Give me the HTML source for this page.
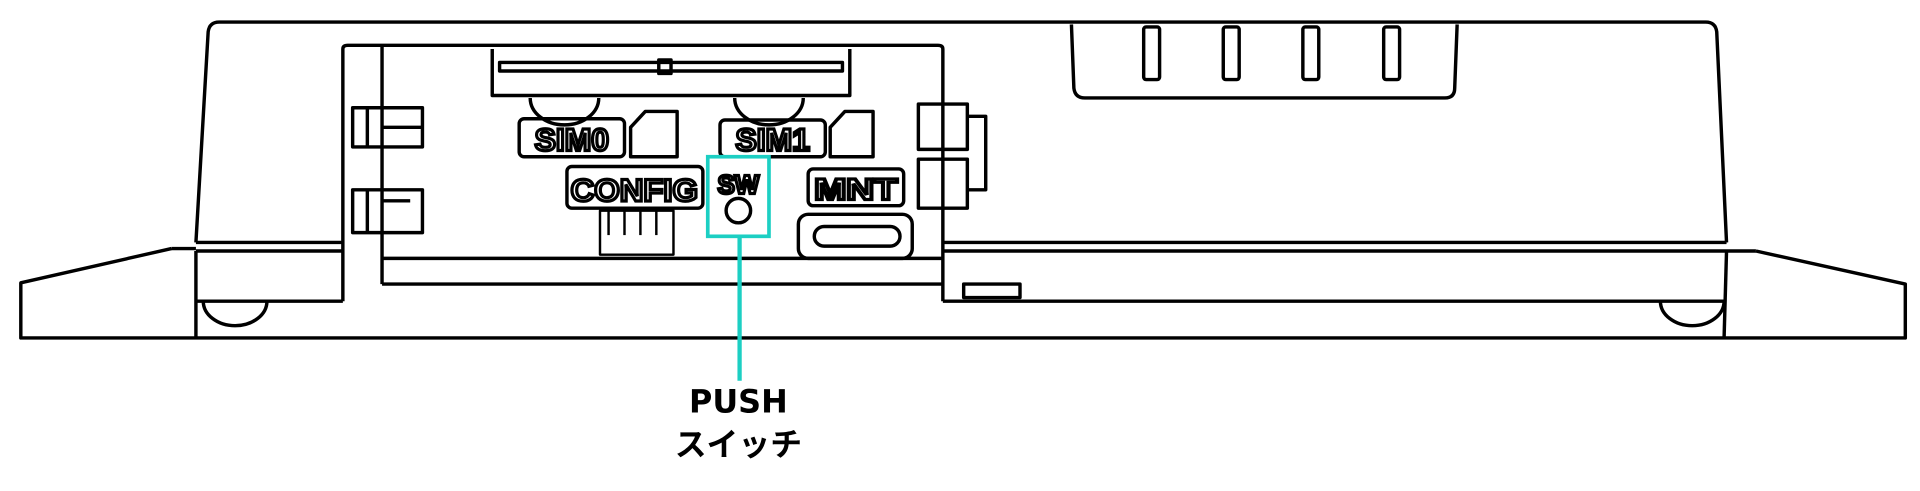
<!DOCTYPE html>
<html><head><meta charset="utf-8"><style>
html,body{margin:0;padding:0;background:#fff;width:1920px;height:491px;overflow:hidden}
svg{display:block}
</style></head><body>
<svg width="1920" height="491" viewBox="0 0 1568 401" preserveAspectRatio="none" xmlns="http://www.w3.org/2000/svg">
<g fill="none" stroke="#000" stroke-width="2.8" stroke-linejoin="round">
<path d="M160,198 L170,26 Q171,18 179,18 L1393,18 Q1401,18 1402,26 L1410,198"/>
<line x1="160" y1="198" x2="280" y2="198"/>
<line x1="770" y1="198" x2="1410" y2="198"/>
<line x1="160" y1="205" x2="280" y2="205"/>
<line x1="770" y1="205" x2="1434" y2="205"/>
<path d="M140,203 L17,231 L17,276 L1556,276 L1556,232 L1434,205"/>
<line x1="140" y1="203" x2="160" y2="203"/>
<line x1="160" y1="205" x2="160" y2="276"/>
<line x1="1410" y1="205" x2="1408" y2="276"/>
<line x1="770" y1="246" x2="1410" y2="246"/>
<line x1="160" y1="246" x2="280" y2="246"/>
<path d="M166,246 A26,20 0 0 0 218,246"/>
<path d="M1356,246 A26,20 0 0 0 1408,246"/>
<path d="M280,246 L280,40 Q280,37 284,37 L766,37 Q770,37 770,40 L770,246"/>
<line x1="312" y1="37" x2="312" y2="232"/>
<line x1="312" y1="211" x2="770" y2="211"/>
<line x1="312" y1="232" x2="770" y2="232"/>
<rect x="787" y="232" width="46" height="11"/>
<path d="M402,40 L402,78 L694,78 L694,40"/>
<rect x="408" y="51" width="280" height="7"/>
<rect x="538" y="49" width="10" height="11"/>
<path d="M433,80 A28,22 0 0 0 489,80"/>
<path d="M600,80 A28,22 0 0 0 656,80"/>
<rect x="424" y="97" width="86" height="31" rx="4"/>
<path d="M515,128 L515,104 L527,91 L553,91 L553,128 Z"/>
<rect x="588" y="98" width="86" height="30" rx="4"/>
<path d="M678,128 L678,104 L690,91 L713,91 L713,128 Z"/>
<rect x="463" y="136" width="111" height="34" rx="4"/>
<rect x="660" y="138" width="78" height="30" rx="4"/>
<rect x="652" y="175" width="93" height="36" rx="8"/>
<rect x="665" y="185" width="70" height="16" rx="8"/>
<g stroke-width="2">
<rect x="490" y="172" width="60" height="36"/>
<line x1="497" y1="172" x2="497" y2="192"/><line x1="510" y1="172" x2="510" y2="192"/>
<line x1="523" y1="172" x2="523" y2="192"/><line x1="536" y1="172" x2="536" y2="192"/>
</g>
<circle cx="603" cy="172" r="10"/>
<rect x="288" y="88" width="57" height="32"/><line x1="300" y1="88" x2="300" y2="120"/><line x1="312" y1="104" x2="345" y2="104"/>
<rect x="288" y="155" width="57" height="35"/><line x1="300" y1="155" x2="300" y2="190"/><line x1="312" y1="164" x2="335" y2="164"/>
<rect x="750" y="85" width="40" height="37"/>
<rect x="750" y="130" width="40" height="40"/>
<path d="M790,95 L805,95 L805,155 L790,155"/>
<path d="M875,20 L877,72 Q878,80 886,80 L1180,80 Q1188,80 1188,72 L1190,20"/>
<rect x="934" y="22" width="13" height="43" rx="2"/>
<rect x="999" y="22" width="13" height="43" rx="2"/>
<rect x="1064" y="22" width="13" height="43" rx="2"/>
<rect x="1130" y="22" width="13" height="43" rx="2"/>
</g>
<g font-family="Liberation Sans, sans-serif" font-weight="bold" fill="#fff" stroke="#000" stroke-width="2.6" text-anchor="middle">
<text x="467" y="123" font-size="26">SIM0</text>
<text x="631" y="123" font-size="26">SIM1</text>
<text x="518" y="164" font-size="26" textLength="104" lengthAdjust="spacingAndGlyphs">CONFIG</text>
<text x="699" y="163" font-size="24" textLength="68" lengthAdjust="spacingAndGlyphs">MNT</text>
<text x="603" y="158" font-size="21">SW</text>
</g>
<rect x="578" y="128" width="50" height="65" fill="none" stroke="#1ccfc3" stroke-width="3"/>
<line x1="604" y1="193" x2="604" y2="311" stroke="#1ccfc3" stroke-width="3.5"/>
<g font-family="DejaVu Sans, 'Noto Sans CJK JP', sans-serif" font-weight="bold" fill="#000" text-anchor="middle" font-size="26">
<text x="603" y="337">PUSH</text>
<text x="603" y="372" font-family="'Noto Sans CJK JP', sans-serif">スイッチ</text>
</g>
</svg>
</body></html>
